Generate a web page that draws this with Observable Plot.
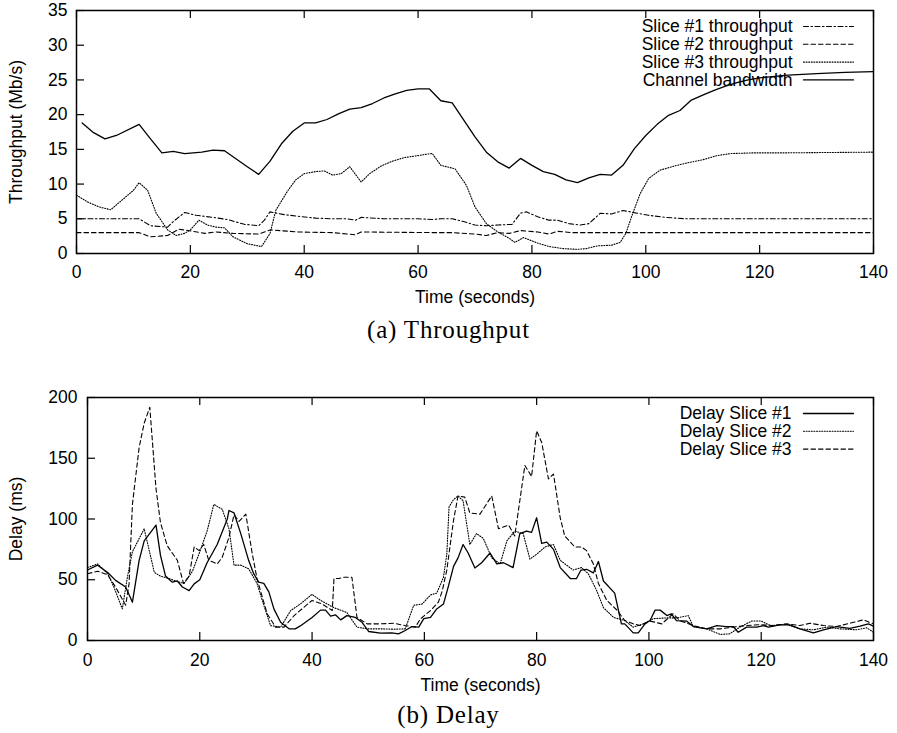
<!DOCTYPE html>
<html><head><meta charset="utf-8">
<script src="https://cdn.jsdelivr.net/npm/d3@7"></script>
<script src="https://cdn.jsdelivr.net/npm/@observablehq/plot@0.6"></script>
<style>
body{margin:0;background:#fff;}
#wrap{width:897px;}
.cap{font-family:"Liberation Serif","Times New Roman",serif;font-size:25px;letter-spacing:0.8px;text-align:center;width:897px;color:#000;}
</style></head><body><div id="wrap"></div>
<script>
// ---- tick labels ----
const timeTicks = [0, 20, 40, 60, 80, 100, 120, 140];
const throughputTicks = [0, 5, 10, 15, 20, 25, 30, 35];
const delayTicks = [0, 50, 100, 150, 200];

// ---- legend labels ----
const throughputLabels = ["Slice #1 throughput", "Slice #2 throughput", "Slice #3 throughput", "Channel bandwidth"];
const delayLabels = ["Delay Slice #1", "Delay Slice #2", "Delay Slice #3"];

// ---- (a) throughput series: [time s, Mb/s] ----
const slice1Throughput = [[0,5.0],[11,5.0],[13,4.0],[16,3.8],[17,4.6],[19,5.9],[21,5.5],[24,5.2],[26.5,4.9],[29.5,4.2],[32,4.0],[33,4.8],[34,6.0],[36.5,5.6],[39.5,5.3],[42,5.1],[45,5.0],[47.5,5.0],[49,4.8],[50,5.2],[54,5.0],[60,5.0],[62.5,4.9],[64,5.0],[66,5.0],[68,4.6],[70,4.1],[72,4.0],[74,4.1],[76.5,4.2],[78,5.8],[79,6.0],[81,5.3],[83,4.8],[84.5,4.8],[86.5,4.3],[88.5,4.1],[90,4.3],[92,5.8],[94,5.7],[96,6.2],[98.5,5.8],[100.5,5.5],[103.5,5.2],[107,5.0],[110.5,5.0],[140,5.0]];
const slice2Throughput = [[0,3.0],[11,3.0],[13,2.4],[16,2.6],[18,3.5],[20.5,3.2],[22.5,2.9],[24.5,3.1],[27.5,2.9],[32,2.8],[34,3.4],[39,3.1],[45,3.0],[49,2.7],[50,3.1],[64,3.0],[66,3.0],[70,2.8],[72,2.6],[74,3.0],[76,2.9],[78,3.3],[81,3.1],[83,2.8],[84.5,3.2],[87,3.0],[140,3.0]];
const slice3Throughput = [[0,8.4],[2,7.4],[4,6.7],[6,6.3],[8,7.7],[10,9.1],[11,10.2],[12.5,9.1],[14,5.8],[16,3.4],[17.5,2.6],[19,2.9],[20,3.4],[21.5,4.8],[23,4.1],[24.5,3.8],[26,3.7],[27.5,2.4],[30,1.4],[32.5,1.0],[34,2.9],[35,6.2],[37,8.9],[38.5,10.6],[40,11.5],[42,11.8],[43.5,11.9],[45,11.3],[46.5,11.5],[48,12.5],[50,10.3],[51.5,11.5],[53.5,12.6],[55.5,13.3],[57.5,13.8],[60,14.1],[61.5,14.3],[62.5,14.4],[64,12.7],[66.5,12.2],[68.5,9.8],[70,6.7],[72,4.3],[74,3.1],[76,2.2],[77,1.6],[78.5,2.3],[81,1.5],[83,1.0],[85.5,0.7],[88,0.6],[89.5,0.7],[91.5,1.1],[94,1.2],[95.5,1.6],[96.5,2.9],[97.5,5.3],[99,8.6],[100.5,10.8],[102.5,12.0],[105,12.6],[107,13.0],[110,13.5],[112.5,14.1],[115,14.4],[119,14.5],[125,14.5],[140,14.6]];
const channelBandwidth = [[1,18.8],[3,17.4],[5,16.5],[7,17.0],[11,18.6],[13,16.5],[15,14.5],[17,14.7],[19,14.4],[22,14.6],[24,14.9],[26,14.8],[30,12.5],[32,11.4],[34,13.3],[36,15.8],[38,17.6],[40,18.8],[42,18.8],[44,19.3],[46,20.1],[48,20.8],[50,21.0],[52,21.6],[54,22.4],[56,23.0],[58,23.5],[60,23.7],[62,23.7],[64,22.0],[66,21.7],[70,16.8],[72,14.6],[74,13.2],[76,12.3],[78,13.7],[80,12.7],[82,11.8],[84,11.4],[86,10.6],[88,10.2],[90,10.9],[92,11.4],[94,11.3],[96,12.7],[98,15.1],[100,17.0],[102,18.6],[104,19.9],[106,20.6],[108,22.1],[110,22.8],[112,23.5],[114,24.1],[116,24.6],[118,25.0],[120,25.3],[125,25.7],[130,25.9],[135,26.1],[140,26.2]];

// ---- (b) delay series: [time s, ms] ----
const delaySlice1 = [[0,58],[1.8,62],[3.6,56],[5,49.5],[6.8,44],[8,31.5],[9.2,66],[10.1,82],[12.2,95],[13,70],[13.9,53],[15.1,48],[16,49],[16.9,44],[18.1,41],[19,46.6],[20,50],[21.3,64],[23.1,79],[24.9,100],[25.2,107],[26.1,105],[27.3,88],[28.7,66],[29.6,55],[30.5,48],[31.4,47],[32.3,40],[33.2,26],[34.4,15],[35.9,9.6],[37,9.6],[37.9,12],[40,19],[41.5,25],[42.4,25],[43.3,20],[44.2,21],[45.1,17],[46.2,20.5],[47.7,19],[48.9,15],[50.1,7.4],[52.2,6],[54.2,6.3],[55.4,5.5],[56.6,8.2],[57.8,11.5],[59,11],[59.9,18],[61.1,19],[62.2,26],[63.4,30],[64.3,45],[65.2,61],[66,68],[66.9,79],[67.8,72],[69,59.7],[70.2,64],[71.7,72],[72.9,63],[74.1,64],[75.8,60],[77,88],[78.2,90],[79.1,89],[80,101],[80.9,80],[81.8,81],[83,75],[84.2,60],[86,51],[87.1,51],[87.9,58],[88.9,58.6],[90.1,55.6],[91,65],[91.9,49],[93.9,39],[95.1,13.7],[95.7,13.7],[97.2,6.3],[98.1,6.3],[99.3,13.7],[100.2,16.4],[101.1,25],[102,25],[103.2,20.5],[104,22],[104.9,16.4],[106.7,16],[107.9,11.5],[110.3,9.6],[112.1,12.3],[113.8,11.5],[115,11.5],[115.9,6.8],[117.4,11],[119.2,11],[120.4,12.3],[121.3,11],[123.3,12.9],[125.1,12.9],[126.9,9.6],[129.3,6.3],[131.1,8.8],[133.4,11.5],[135.8,10],[137.6,11.8],[139.1,13.7],[140,11.8]];
const delaySlice2 = [[0,60],[1.8,63],[3.6,55],[4.7,44],[6.2,26],[7.1,52],[8,73],[10.1,92],[11.9,56],[13,53],[14.5,51],[15.7,49],[17.2,47],[18.7,57],[20,73],[21.3,90],[22.5,112],[24,108],[25.2,92],[26.1,62],[27.3,62],[28.7,59],[30.2,47],[31.4,29],[32.6,12.3],[34.4,11],[36.2,24.7],[37.9,30],[40,38],[41.5,33],[43.9,27],[46.2,23],[48,11],[49.8,9.6],[52.2,9.6],[54.5,9.3],[56.6,9.6],[58.1,29],[59.6,30],[61.1,37.5],[62.2,39],[63.4,52],[64,71],[64.4,110],[65.2,116],[66,119],[66.9,115],[68.1,79],[69.3,88],[70.5,84],[72,68],[73.5,63],[74.7,82],[76.1,90],[77.6,88],[78.8,67],[80,71],[81.5,77],[83,79],[84.2,66],[86.5,58],[88,60],[89.2,55],[90.7,41],[91.9,27],[93.7,19],[95.7,16.4],[97.2,11],[99,13.7],[100.8,18],[103.2,18.6],[104.9,18.6],[107,20.5],[107.9,11.5],[110.3,9.6],[112.7,5],[114.4,5.5],[116.2,11],[118.3,16],[120,16],[121.6,12.3],[124.5,13.2],[126.9,9.6],[129.3,8.8],[131.7,11],[134,9.6],[137,8.8],[138.8,10.4],[140,6.8]];
const delaySlice3 = [[0,55],[1.8,57],[3.6,54],[5,44],[6.8,29],[7.4,46.6],[8,112],[9.2,159],[10.1,179],[11.1,192],[12.2,125],[13,97],[14.2,78],[16,66],[17.1,47],[18.1,53],[19,77],[19.9,74],[20.7,79],[21.6,66],[23.1,63],[24,68.5],[25.2,85],[26.1,103.6],[27,98],[28.2,104],[29.3,72.6],[30.2,50.7],[32,22],[33.5,11],[35,11],[36.8,20.5],[38.2,26],[40,33],[41.8,30],[43.6,24.7],[43.9,51],[44.8,51],[45.6,52],[47.1,52],[48,19],[49.8,13.7],[52.2,13.7],[54.5,14.2],[56.6,12.3],[58.4,11],[59.3,17.8],[61.1,24.7],[62.5,31.5],[63.2,41],[64,58],[65.2,99],[66,119],[67.2,118],[68.1,105],[69.9,104],[72,119],[73.2,92],[75,95],[76.1,86],[77.9,144],[79.1,135],[80,172.6],[80.9,163],[82.1,133],[83,137],[84.2,101],[85,86],[86.8,77],[88,77],[88.9,74],[90.1,63],[91,47],[92.5,33],[94.3,25],[95.7,16.4],[97.2,13.7],[98.4,12.3],[100.2,16],[102.3,13.7],[104.3,22],[105.5,16.4],[107.9,12.3],[110.3,9.6],[112.7,9.6],[115,11],[117.4,12.3],[119.8,13],[122.2,12.3],[124.5,13.7],[126.9,12.3],[128.7,14.2],[131.1,12.3],[133.4,11.5],[135.8,14.2],[138.2,17],[140,13.7]];

// ---- styles ----
const DASHDOT = "5,2.5,1.5,2.5";
const DASHED = "4.5,3";
const DOTTED = "1,1.6";
const FONT = "'Liberation Sans', Arial, Helvetica, sans-serif";
const lineShape = {draw(context, l) { context.moveTo(0, 0); context.lineTo(0, -l); }};

function seriesMark(data, dash, width) {
  return Plot.line(data, {x: d => d[0], y: d => d[1], stroke: "black", strokeWidth: width, strokeDasharray: dash, fill: "none"});
}

function legend(labels, dashes, widths, dxText) {
  const marks = [];
  labels.forEach((lab, i) => {
    const dy = 16 + i * 17.8;
    marks.push(Plot.text([lab], {text: d => d, frameAnchor: "top-right", dx: dxText, dy, textAnchor: "end", lineAnchor: "middle", fill: "black"}));
    marks.push(Plot.vector([lab], {frameAnchor: "top-right", dx: -70, dy, length: 50, rotate: 90, anchor: "start", shape: lineShape, stroke: "black", fill: "none", strokeWidth: widths[i], strokeDasharray: dashes[i]}));
  });
  return marks;
}

function chart({height, mt, mb, ml, yDomain, yTicks, yLabel, labelDx, xLabelDy, xPad, yPad, series, legendMarks}) {
  const mr = 24;
  const innerH = height - mt - mb;
  const innerW = 897 - ml - mr;
  return Plot.plot({
    width: 897, height,
    marginTop: mt, marginBottom: mb, marginLeft: ml, marginRight: mr,
    style: {fontFamily: FONT, fontSize: "17.5px", color: "black", background: "white", overflow: "visible"},
    x: {domain: [0, 140]},
    y: {domain: yDomain},
    marks: [
      ...series,
      Plot.frame({stroke: "black", strokeWidth: 1.5}),
      Plot.tickX(timeTicks, {x: d => d, insetTop: innerH - 8, stroke: "black", strokeWidth: 1.2}),
      Plot.tickX(timeTicks, {x: d => d, insetBottom: innerH - 8, stroke: "black", strokeWidth: 1.2}),
      Plot.tickY(yTicks, {y: d => d, insetRight: innerW - 8, stroke: "black", strokeWidth: 1.2}),
      Plot.axisX(timeTicks, {tickSize: 0, tickPadding: xPad, label: null, tickFormat: d => String(d)}),
      Plot.axisY(yTicks, {tickSize: 0, tickPadding: yPad, label: null, tickFormat: d => String(d)}),
      Plot.text(["Time (seconds)"], {text: d => d, frameAnchor: "bottom", dy: xLabelDy, textAnchor: "middle", lineAnchor: "middle", fill: "black"}),
      Plot.text([yLabel], {text: d => d, frameAnchor: "left", dx: labelDx, rotate: -90, textAnchor: "middle", lineAnchor: "middle", fill: "black"}),
      ...legendMarks
    ]
  });
}

const wrap = document.getElementById("wrap");

const chartA = chart({
  height: 310, mt: 10, mb: 57, ml: 76,
  yDomain: [0, 35], yTicks: throughputTicks, yLabel: "Throughput (Mb/s)", labelDx: -60, xLabelDy: 44, xPad: 12, yPad: 9,
  series: [
    seriesMark(slice1Throughput, DASHDOT, 1.1),
    seriesMark(slice2Throughput, DASHED, 1.1),
    seriesMark(slice3Throughput, DOTTED, 1.1),
    seriesMark(channelBandwidth, null, 1.3)
  ],
  legendMarks: legend(throughputLabels, [DASHDOT, DASHED, DOTTED, null], [1.1, 1.1, 1.1, 1.3], -81)
});
wrap.appendChild(chartA);

const capA = document.createElement("div");
capA.className = "cap"; capA.style.height = "40px"; capA.style.lineHeight = "40px";
capA.textContent = "(a) Throughput";
wrap.appendChild(capA);

const chartB = chart({
  height: 350, mt: 47, mb: 60, ml: 87,
  yDomain: [0, 200], yTicks: delayTicks, yLabel: "Delay (ms)", labelDx: -71, xLabelDy: 45, xPad: 13, yPad: 10,
  series: [
    seriesMark(delaySlice2, DOTTED, 1.1),
    seriesMark(delaySlice3, DASHED, 1.1),
    seriesMark(delaySlice1, null, 1.3)
  ],
  legendMarks: legend(delayLabels, [null, DOTTED, DASHED], [1.3, 1.1, 1.1], -82)
});
wrap.appendChild(chartB);

const capB = document.createElement("div");
capB.className = "cap"; capB.style.height = "30px"; capB.style.lineHeight = "30px";
capB.textContent = "(b) Delay";
wrap.appendChild(capB);
</script></body></html>
